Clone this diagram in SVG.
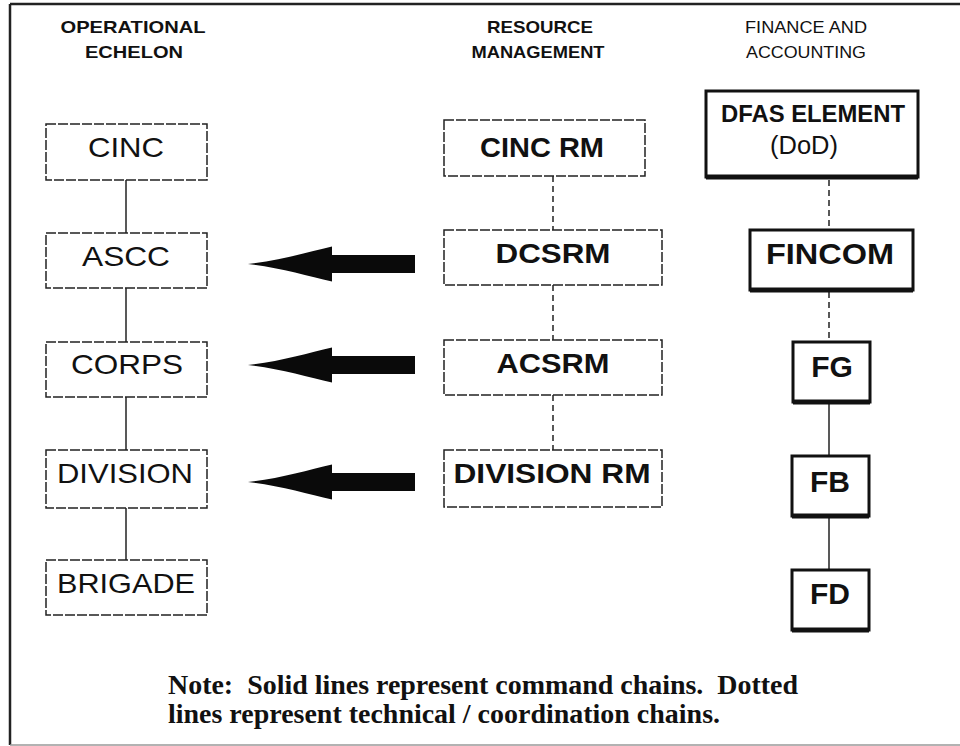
<svg xmlns="http://www.w3.org/2000/svg" width="960" height="746" viewBox="0 0 960 746">
<style>
  text{font-family:"Liberation Sans",Arial,sans-serif;fill:#111}
  .hdr{font-size:17px;text-anchor:middle}
  .hb{font-weight:bold}
  .bx{fill:#fff;stroke:#222;stroke-width:1.5;stroke-dasharray:10 2}
  .fx{fill:#fff;stroke:#111;stroke-width:3}
  .lt{font-size:28px;text-anchor:middle}
  .mt{font-size:28px;font-weight:bold;text-anchor:middle}
  .rt{font-size:30px;font-weight:bold;text-anchor:middle}
  .solid{stroke:#222;stroke-width:1.5;fill:none}
  .dash{stroke:#222;stroke-width:1.5;fill:none;stroke-dasharray:6 4}
  .note{font-family:"Liberation Serif","Times New Roman",serif;font-size:27px;font-weight:bold}
</style>
<defs>
  <path id="bigArrow" d="M0,0 C30,-3 60,-12 84,-17.5 L84,-9 L167,-9 L167,9 L84,9 L84,17.5 C60,12 30,3 0,0 Z" fill="#0a0a0a"/>
</defs>
<rect x="0" y="0" width="960" height="746" fill="#fff"/>
<g id="frame">
  <line x1="10" y1="4" x2="960" y2="4" stroke="#222" stroke-width="2.5"/>
  <line x1="10" y1="4" x2="10" y2="745" stroke="#222" stroke-width="2.5"/>
  <line x1="10" y1="745" x2="960" y2="745" stroke="#999" stroke-width="1.5"/>
</g>
<g id="headers">
  <text class="hdr hb" x="133" y="33" textLength="145" lengthAdjust="spacingAndGlyphs">OPERATIONAL</text>
  <text class="hdr hb" x="134" y="58" textLength="98" lengthAdjust="spacingAndGlyphs">ECHELON</text>
  <text class="hdr hb" x="540" y="33" textLength="106" lengthAdjust="spacingAndGlyphs">RESOURCE</text>
  <text class="hdr hb" x="538" y="58" textLength="133" lengthAdjust="spacingAndGlyphs">MANAGEMENT</text>
  <text class="hdr" x="806" y="33" textLength="122" lengthAdjust="spacingAndGlyphs">FINANCE AND</text>
  <text class="hdr" x="806" y="58" textLength="120" lengthAdjust="spacingAndGlyphs">ACCOUNTING</text>
</g>
<g id="connectors">
  <line class="solid" x1="126" y1="180" x2="126" y2="233"/>
  <line class="solid" x1="126" y1="288" x2="126" y2="342"/>
  <line class="solid" x1="126" y1="397" x2="126" y2="450"/>
  <line class="solid" x1="126" y1="508" x2="126" y2="560"/>
  <line class="dash" x1="553" y1="176" x2="553" y2="230"/>
  <line class="dash" x1="553" y1="285" x2="553" y2="340"/>
  <line class="dash" x1="553" y1="395" x2="553" y2="450"/>
  <line class="dash" x1="829" y1="180" x2="829" y2="230"/>
  <line class="dash" x1="829" y1="292" x2="829" y2="342"/>
  <line class="solid" x1="829" y1="404" x2="829" y2="456"/>
  <line class="solid" x1="829" y1="518" x2="829" y2="570"/>
  <use href="#bigArrow" transform="translate(248,264)"/>
  <use href="#bigArrow" transform="translate(248,365)"/>
  <use href="#bigArrow" transform="translate(248,482)"/>
</g>
<g id="cinc"><rect class="bx" x="46" y="124" width="161" height="56"/><text class="lt" x="126" y="157" textLength="76" lengthAdjust="spacingAndGlyphs">CINC</text></g>
<g id="ascc"><rect class="bx" x="46" y="233" width="161" height="55"/><text class="lt" x="126" y="266" textLength="88" lengthAdjust="spacingAndGlyphs">ASCC</text></g>
<g id="corps"><rect class="bx" x="46" y="342" width="161" height="55"/><text class="lt" x="127" y="374" textLength="112" lengthAdjust="spacingAndGlyphs">CORPS</text></g>
<g id="division"><rect class="bx" x="46" y="450" width="161" height="58"/><text class="lt" x="125" y="483" textLength="136" lengthAdjust="spacingAndGlyphs">DIVISION</text></g>
<g id="brigade"><rect class="bx" x="46" y="560" width="161" height="55"/><text class="lt" x="126" y="593" textLength="138" lengthAdjust="spacingAndGlyphs">BRIGADE</text></g>
<g id="cincrm"><rect class="bx" x="444" y="120" width="201" height="56"/><text class="mt" x="542" y="157" textLength="124" lengthAdjust="spacingAndGlyphs">CINC RM</text></g>
<g id="dcsrm"><rect class="bx" x="444" y="230" width="218" height="55"/><text class="mt" x="553" y="263" textLength="115" lengthAdjust="spacingAndGlyphs">DCSRM</text></g>
<g id="acsrm"><rect class="bx" x="444" y="340" width="218" height="55"/><text class="mt" x="553" y="373" textLength="113" lengthAdjust="spacingAndGlyphs">ACSRM</text></g>
<g id="divisionrm"><rect class="bx" x="444" y="450" width="218" height="57"/><text class="mt" x="552" y="483" textLength="197" lengthAdjust="spacingAndGlyphs">DIVISION RM</text></g>
<g id="dfas"><rect class="fx" x="706" y="91" width="212" height="86"/><line x1="706" y1="177" x2="918" y2="177" stroke="#111" stroke-width="5"/><text class="mt" x="813" y="122" style="font-size:24px" textLength="184" lengthAdjust="spacingAndGlyphs">DFAS ELEMENT</text><text class="lt" x="804" y="154" style="font-size:25px" textLength="68" lengthAdjust="spacingAndGlyphs">(DoD)</text></g>
<g id="fincom"><rect class="fx" x="750" y="230" width="163" height="60"/><line x1="750" y1="290" x2="913" y2="290" stroke="#111" stroke-width="5"/><text class="rt" x="830" y="264" textLength="128" lengthAdjust="spacingAndGlyphs">FINCOM</text></g>
<g id="fg"><rect class="fx" x="793" y="342" width="77" height="60"/><line x1="793" y1="402" x2="870" y2="402" stroke="#111" stroke-width="5"/><text class="rt" x="832" y="377">FG</text></g>
<g id="fb"><rect class="fx" x="792" y="456" width="77" height="60"/><line x1="792" y1="516" x2="869" y2="516" stroke="#111" stroke-width="5"/><text class="rt" x="830" y="492">FB</text></g>
<g id="fd"><rect class="fx" x="792" y="570" width="77" height="60"/><line x1="792" y1="630" x2="869" y2="630" stroke="#111" stroke-width="5"/><text class="rt" x="830" y="604">FD</text></g>
<g id="note">
  <text class="note" x="168" y="694" textLength="630" lengthAdjust="spacingAndGlyphs">Note:&#160; Solid lines represent command chains.&#160; Dotted</text>
  <text class="note" x="168" y="723" textLength="552" lengthAdjust="spacingAndGlyphs">lines represent technical / coordination chains.</text>
</g>
</svg>
